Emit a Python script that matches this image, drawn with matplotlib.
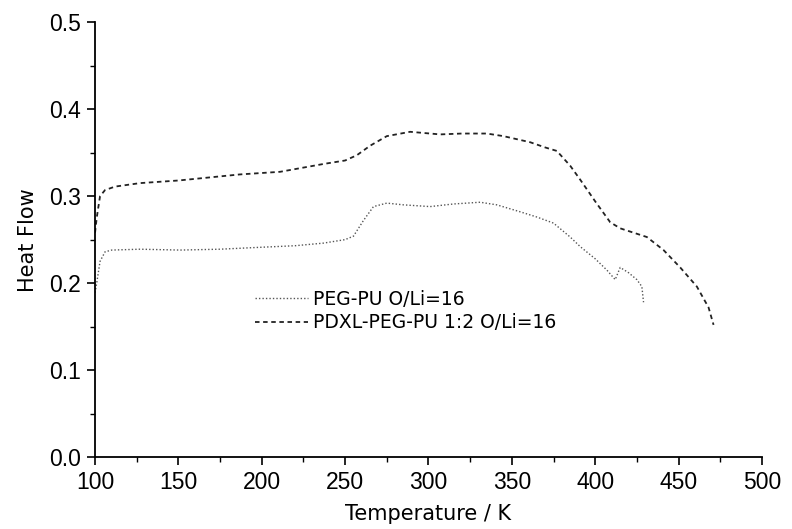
import matplotlib
matplotlib.use("Agg")
import matplotlib.pyplot as plt
from matplotlib.ticker import MultipleLocator

plt.rcParams['font.family'] = ['Liberation Sans', 'DejaVu Sans']

# PEG-PU O/Li=16
peg_t = [100, 101, 103, 106, 110, 127, 151, 175, 197, 220, 237, 250, 255,
         261, 267, 275, 285, 301, 315, 331, 341, 355, 365, 375, 385, 391,
         400, 407, 412, 415, 420, 425, 428, 429]
peg_hf = [0.189, 0.200, 0.225, 0.236, 0.238, 0.239, 0.238, 0.239, 0.241,
          0.243, 0.246, 0.250, 0.254, 0.272, 0.288, 0.292, 0.290, 0.288,
          0.291, 0.293, 0.290, 0.282, 0.276, 0.269, 0.253, 0.242, 0.228,
          0.215, 0.204, 0.218, 0.212, 0.204, 0.196, 0.178]

# PDXL-PEG-PU 1:2 O/Li=16
pdxl_t = [100, 101, 103, 106, 112, 127, 150, 187, 211, 237, 250, 257, 265,
          275, 289, 307, 320, 335, 345, 361, 370, 377, 385, 391, 400, 409,
          415, 431, 441, 451, 461, 468, 471]
pdxl_hf = [0.258, 0.275, 0.300, 0.307, 0.311, 0.315, 0.318, 0.325, 0.328,
           0.337, 0.341, 0.347, 0.358, 0.369, 0.374, 0.371, 0.372, 0.372,
           0.369, 0.362, 0.356, 0.352, 0.335, 0.319, 0.294, 0.270, 0.263,
           0.253, 0.238, 0.218, 0.196, 0.172, 0.152]

fig = plt.figure(figsize=(7.92, 5.29), dpi=100)
ax = fig.add_axes([0.12, 0.136, 0.842, 0.822])

ax.plot(peg_t, peg_hf, color='#555555', lw=1.0, linestyle=(0, (1, 1.5)),
        label='PEG-PU O/Li=16')
ax.plot(pdxl_t, pdxl_hf, color='#222222', lw=1.3, linestyle=(0, (2.5, 2)),
        label='PDXL-PEG-PU 1:2 O/Li=16')

ax.set_xlim(100, 500)
ax.set_ylim(0.0, 0.5)
ax.xaxis.set_major_locator(MultipleLocator(50))
ax.xaxis.set_minor_locator(MultipleLocator(25))
ax.yaxis.set_major_locator(MultipleLocator(0.1))
ax.yaxis.set_minor_locator(MultipleLocator(0.05))
ax.yaxis.set_major_formatter(plt.FormatStrFormatter('%.1f'))

for side in ('top', 'right'):
    ax.spines[side].set_visible(False)
for side in ('left', 'bottom'):
    ax.spines[side].set_linewidth(1.3)

ax.tick_params(which='major', direction='out', length=6, width=1.2, pad=4,
               labelsize=16.5)
ax.tick_params(which='minor', direction='out', length=3.5, width=1.0)

# wider face for the axis titles and legend
ax.set_xlabel('Temperature / K', fontsize=15, family='DejaVu Sans', labelpad=7)
ax.set_ylabel('Heat Flow', fontsize=15, family='DejaVu Sans', labelpad=8)

ax.legend(loc='center left', bbox_to_anchor=(0.24, 0.336), frameon=False,
          prop={'family': 'DejaVu Sans', 'size': 13.5},
          handlelength=2.8, handletextpad=0.3, labelspacing=0.25,
          borderaxespad=0, borderpad=0)

fig.savefig('out.png', dpi=100)
